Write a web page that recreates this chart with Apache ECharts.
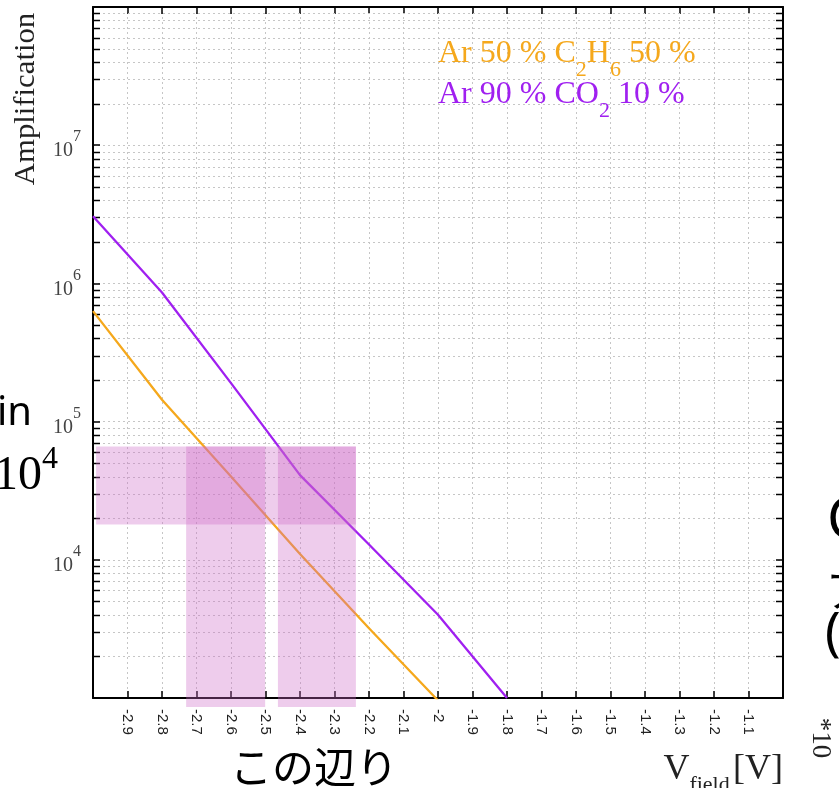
<!DOCTYPE html>
<html>
<head>
<meta charset="utf-8">
<script src="https://cdn.jsdelivr.net/npm/echarts@6/dist/echarts.min.js"></script>
<style>
html,body{margin:0;padding:0;background:#fff;}
#chart{width:839px;height:788px;}
</style>
</head>
<body>
<div id="chart"></div>
<script>
// ---- data ----
const vField = [-3.0, -2.8, -2.6, -2.4, -2.2, -2.0, -1.8];
const ampArC2H6 = [6.3e5, 1.44e5, 4.0e4, 1.1e4, 3.2e3, 9.6e2, null];
const ampArCO2 = [3.06e6, 8.6e5, 1.9e5, 4.1e4, 1.29e4, 4.0e3, 1.0e3];
const seriesNames = ['Ar 50 % C2H6 50 %', 'Ar 90 % CO2 10 %'];
// highlighted regions [vMin, vMax, ampMin, ampMax]
const highlightBands = [
  [-2.991, -2.238, 1.8e4, 6.6e4],
  [-2.730, -2.501, 860, 6.6e4],
  [-2.464, -2.238, 860, 6.6e4]
];
const xMin = -3, xMax = -1, xStep = 0.1;
const yMin = 1e3, yMax = 1e8;
const logMantissas = [2, 3, 4, 5, 6, 7, 8, 9];
const logDecades = [1e3, 1e4, 1e5, 1e6, 1e7];

const ORANGE = '#f5a81c';
const PURPLE = '#a020f0';

const minorVals = [];
logDecades.forEach(d => logMantissas.forEach(m => minorVals.push([xMin, m * d])));

const chart = echarts.init(document.getElementById('chart'), null, {renderer: 'canvas'});

function xLabel(v) {
  if (Math.abs(v - xMin) < 1e-9 || Math.abs(v - xMax) < 1e-9) return '';
  return String(Math.round(v * 10) / 10);
}
function yLabel(v) {
  const e = Math.round(Math.log10(v));
  if (v <= yMin * 1.001 || v >= yMax * 0.999) return '';
  return '{b|10}{s|' + e + '}';
}

const axisLineStyle = {show: true, onZero: false, lineStyle: {color: '#000', width: 2}};
const tickStyle = {show: true, inside: true, length: 7, lineStyle: {color: '#000', width: 1.5}};
const gridLineStyle = {show: true, lineStyle: {color: '#c6c6c6', width: 1, type: [2, 3]}};

const serif = 'Liberation Serif';

const option = {
  backgroundColor: '#fff',
  animation: false,
  grid: {left: 93, right: 56, top: 7, bottom: 90, containLabel: false},
  legend: {
    data: seriesNames,
    orient: 'vertical',
    left: 428,
    top: 33,
    itemWidth: 0,
    itemHeight: 0,
    itemGap: -2,
    icon: 'rect',
    selectedMode: false,
    formatter: function (name) {
      if (name === seriesNames[0]) return '{o|Ar 50 % C}{os|2}{o|H}{os|6}{o| 50 %}';
      return '{p|Ar 90 % CO}{ps|2}{p| 10 %}';
    },
    textStyle: {
      rich: {
        o: {color: ORANGE, fontFamily: serif, fontSize: 32, lineHeight: 32, verticalAlign: 'top'},
        os: {color: ORANGE, fontFamily: serif, fontSize: 22, lineHeight: 22, verticalAlign: 'top', padding: [21, 0, 0, 0]},
        p: {color: PURPLE, fontFamily: serif, fontSize: 32, lineHeight: 32, verticalAlign: 'top'},
        ps: {color: PURPLE, fontFamily: serif, fontSize: 22, lineHeight: 22, verticalAlign: 'top', padding: [21, 0, 0, 0]}
      }
    }
  },
  xAxis: [
    {
      type: 'value', min: xMin, max: xMax, interval: xStep, position: 'bottom',
      axisLine: axisLineStyle, axisTick: tickStyle,
      axisLabel: {rotate: -90, margin: 11, formatter: xLabel, color: '#222', fontSize: 15, fontFamily: 'Liberation Sans', showMinLabel: true, showMaxLabel: true},
      splitLine: gridLineStyle
    },
    {
      type: 'value', min: xMin, max: xMax, interval: xStep, position: 'top',
      axisLine: axisLineStyle, axisTick: tickStyle,
      axisLabel: {show: false}, splitLine: {show: false}
    }
  ],
  yAxis: [
    {
      type: 'log', logBase: 10, min: yMin, max: yMax, position: 'left',
      axisLine: axisLineStyle, axisTick: tickStyle,
      axisLabel: {
        margin: 12, formatter: yLabel,
        rich: {
          b: {fontFamily: serif, fontSize: 20, color: '#444', lineHeight: 32, verticalAlign: 'bottom'},
          s: {fontFamily: serif, fontSize: 16, color: '#444', lineHeight: 32, verticalAlign: 'top'}
        }
      },
      splitLine: gridLineStyle
    },
    {
      type: 'log', logBase: 10, min: yMin, max: yMax, position: 'right',
      axisLine: axisLineStyle, axisTick: tickStyle,
      axisLabel: {show: false}, splitLine: {show: false}
    }
  ],
  series: [
    {
      type: 'custom', name: 'minorGrid', xAxisIndex: 0, yAxisIndex: 0, z: 1, silent: true,
      encode: {x: 0, y: 1},
      data: minorVals,
      renderItem: function (params, api) {
        const cs = params.coordSys;
        const y = Math.round(api.coord([api.value(0), api.value(1)])[1]) + 0.5;
        return {
          type: 'group',
          children: [
            {type: 'line', shape: {x1: cs.x, y1: y, x2: cs.x + cs.width, y2: y}, style: {stroke: '#c6c6c6', lineWidth: 1, lineDash: [2, 3]}},
            {type: 'line', shape: {x1: cs.x, y1: y, x2: cs.x + 7, y2: y}, style: {stroke: '#000', lineWidth: 1.5}},
            {type: 'line', shape: {x1: cs.x + cs.width - 7, y1: y, x2: cs.x + cs.width, y2: y}, style: {stroke: '#000', lineWidth: 1.5}}
          ]
        };
      }
    },
    {
      type: 'line', name: seriesNames[0], xAxisIndex: 0, yAxisIndex: 0, z: 3,
      showSymbol: false, symbol: 'none', clip: true,
      lineStyle: {color: ORANGE, width: 2.3}, itemStyle: {color: ORANGE},
      data: vField.map((v, i) => [v, ampArC2H6[i]])
    },
    {
      type: 'line', name: seriesNames[1], xAxisIndex: 0, yAxisIndex: 0, z: 3,
      showSymbol: false, symbol: 'none', clip: true,
      lineStyle: {color: PURPLE, width: 2.3}, itemStyle: {color: PURPLE},
      data: vField.map((v, i) => [v, ampArCO2[i]])
    },
    {
      type: 'custom', name: 'highlight', xAxisIndex: 0, yAxisIndex: 0, z: 20, silent: true, clip: false,
      encode: {x: [0, 1], y: [2, 3]},
      data: highlightBands,
      renderItem: function (params, api) {
        const a = api.coord([api.value(0), api.value(3)]);
        const b = api.coord([api.value(1), api.value(2)]);
        return {
          type: 'rect',
          shape: {x: a[0], y: a[1], width: b[0] - a[0], height: b[1] - a[1]},
          style: {fill: 'rgba(206,106,200,0.34)'}
        };
      }
    }
  ],
  graphic: [
    {type: 'text', x: 26, y: 99, rotation: Math.PI / 2, scaleX: 1.06,
      style: {text: 'Amplification', fontFamily: serif, fontSize: 29, fill: '#222', align: 'center', verticalAlign: 'middle'}},
    {type: 'text', x: 783, y: 792,
      style: {text: '{v|V}{s|field} {v|[V]}', align: 'right', verticalAlign: 'bottom',
        rich: {
          v: {fontFamily: serif, fontSize: 36, fill: '#222', lineHeight: 40, verticalAlign: 'top'},
          s: {fontFamily: serif, fontSize: 22, fill: '#222', lineHeight: 22, verticalAlign: 'top', padding: [22, 0, 0, 0]}
        }}},
    {type: 'text', x: -3, y: 434,
      style: {text: 'in', fontFamily: 'Noto Sans', fontSize: 40, fill: '#000', align: 'left', verticalAlign: 'bottom'}},
    {type: 'text', x: -6, y: 500,
      style: {text: '{n|10}{e|4}', align: 'left', verticalAlign: 'bottom',
        rich: {
          n: {fontFamily: serif, fontSize: 48, fill: '#000', lineHeight: 56, verticalAlign: 'bottom'},
          e: {fontFamily: serif, fontSize: 32, fill: '#000', lineHeight: 56, verticalAlign: 'top'}
        }}},
    {type: 'text', x: 314, y: 767,
      style: {text: 'この辺り', fontFamily: 'Noto Sans CJK JP', fontSize: 42, fill: '#000', align: 'center', verticalAlign: 'middle'}},
    {type: 'text', x: 827, y: 522,
      style: {text: 'C', fontFamily: 'Noto Sans', fontSize: 56, fill: '#000', align: 'left', verticalAlign: 'middle'}},
    {type: 'text', x: 826, y: 590,
      style: {text: 'ア', fontFamily: 'Noto Sans CJK JP', fontSize: 44, fill: '#000', align: 'left', verticalAlign: 'middle'}},
    {type: 'text', x: 825, y: 635,
      style: {text: '(', fontFamily: 'Noto Sans', fontSize: 52, fill: '#000', align: 'left', verticalAlign: 'middle'}},
    {type: 'text', x: 820, y: 738, rotation: -Math.PI / 2,
      style: {text: '*10', fontFamily: serif, fontSize: 27, fill: '#222', align: 'center', verticalAlign: 'middle'}}
  ]
};
chart.setOption(option);
</script>
</body>
</html>
